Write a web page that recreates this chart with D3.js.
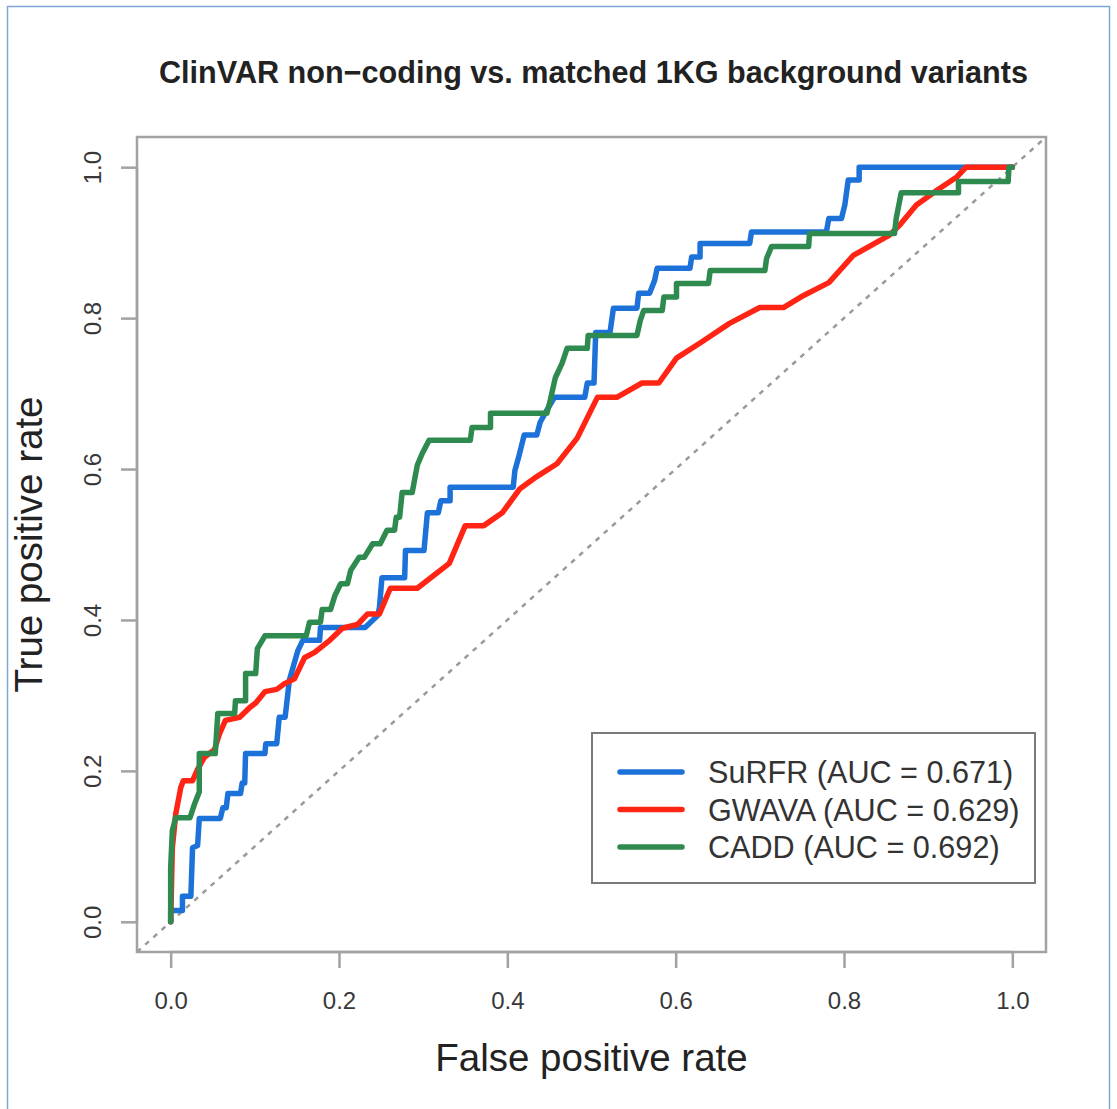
<!DOCTYPE html>
<html>
<head>
<meta charset="utf-8">
<script src="https://cdn.jsdelivr.net/npm/d3@7/dist/d3.min.js"></script>
<style>
  html, body { margin: 0; padding: 0; background: #ffffff; }
  svg { display: block; font-family: "Liberation Sans", Arial, Helvetica, sans-serif; }
</style>
</head>
<body>
<svg id="chart" width="1117" height="1109"></svg>
<script>
// ROC curves: [false positive rate, true positive rate] vertices
const surfrROC = [
  [0,0],[0,0.015],[0.014,0.015],[0.014,0.034],[0.024,0.034],[0.026,0.098],[0.032,0.101],
  [0.034,0.137],[0.059,0.137],[0.062,0.151],[0.066,0.151],[0.068,0.170],[0.083,0.170],
  [0.085,0.184],[0.088,0.184],[0.089,0.223],[0.112,0.223],[0.113,0.236],[0.126,0.236],
  [0.129,0.271],[0.136,0.271],[0.141,0.320],[0.151,0.359],[0.157,0.373],[0.177,0.373],
  [0.178,0.390],[0.231,0.390],[0.246,0.406],[0.248,0.416],[0.251,0.456],[0.278,0.456],
  [0.279,0.492],[0.301,0.492],[0.305,0.542],[0.318,0.542],[0.321,0.558],[0.332,0.558],
  [0.332,0.576],[0.407,0.576],[0.409,0.598],[0.414,0.618],[0.420,0.645],[0.435,0.645],
  [0.439,0.662],[0.447,0.678],[0.456,0.695],[0.492,0.695],[0.495,0.714],[0.503,0.714],
  [0.505,0.781],[0.522,0.781],[0.526,0.813],[0.554,0.813],[0.556,0.833],[0.569,0.833],
  [0.575,0.850],[0.578,0.866],[0.617,0.866],[0.619,0.881],[0.629,0.881],[0.629,0.899],
  [0.688,0.899],[0.690,0.914],[0.779,0.914],[0.782,0.932],[0.797,0.932],[0.801,0.950],
  [0.805,0.983],[0.818,0.983],[0.818,1.0],[1,1]
];

const gwavaROC = [
  [0,0],[0.002,0.098],[0.006,0.143],[0.012,0.178],[0.015,0.187],[0.026,0.187],[0.032,0.202],
  [0.040,0.218],[0.052,0.228],[0.058,0.249],[0.065,0.267],[0.082,0.271],[0.094,0.284],
  [0.101,0.290],[0.112,0.305],[0.126,0.308],[0.136,0.316],[0.147,0.322],[0.159,0.350],
  [0.171,0.357],[0.189,0.373],[0.204,0.389],[0.222,0.394],[0.234,0.408],[0.248,0.408],
  [0.261,0.442],[0.293,0.442],[0.331,0.475],[0.350,0.525],[0.372,0.525],[0.394,0.542],
  [0.415,0.574],[0.435,0.590],[0.459,0.607],[0.483,0.641],[0.507,0.695],[0.530,0.695],
  [0.560,0.714],[0.580,0.714],[0.601,0.747],[0.629,0.767],[0.664,0.793],[0.700,0.814],
  [0.728,0.814],[0.752,0.830],[0.782,0.847],[0.811,0.883],[0.854,0.910],[0.866,0.923],
  [0.886,0.950],[0.910,0.969],[0.934,0.987],[0.945,1.0],[1,1]
];

const caddROC = [
  [0,0],[0,0.072],[0.002,0.121],[0.006,0.138],[0.023,0.138],[0.028,0.155],[0.034,0.172],
  [0.034,0.223],[0.053,0.223],[0.056,0.276],[0.076,0.276],[0.077,0.293],[0.089,0.293],
  [0.089,0.329],[0.101,0.329],[0.103,0.362],[0.112,0.379],[0.161,0.379],[0.165,0.397],
  [0.178,0.397],[0.180,0.414],[0.190,0.414],[0.195,0.432],[0.202,0.448],[0.210,0.448],
  [0.214,0.466],[0.224,0.483],[0.230,0.483],[0.240,0.501],[0.249,0.501],[0.257,0.519],
  [0.266,0.519],[0.268,0.536],[0.272,0.536],[0.275,0.569],[0.287,0.569],[0.293,0.605],
  [0.299,0.621],[0.307,0.638],[0.356,0.638],[0.358,0.655],[0.380,0.655],[0.380,0.674],
  [0.447,0.674],[0.451,0.691],[0.457,0.721],[0.465,0.740],[0.471,0.760],[0.495,0.760],
  [0.496,0.777],[0.554,0.777],[0.558,0.797],[0.562,0.810],[0.584,0.810],[0.586,0.828],
  [0.601,0.828],[0.601,0.846],[0.639,0.846],[0.641,0.863],[0.706,0.863],[0.708,0.879],
  [0.714,0.895],[0.758,0.895],[0.759,0.912],[0.860,0.912],[0.862,0.932],[0.868,0.966],
  [0.936,0.966],[0.936,0.981],[0.995,0.981],[0.996,1.0],[1,1]
];

const seriesNames = ["SuRFR", "GWAVA", "CADD"];
const aucValues = [0.671, 0.629, 0.692];
const seriesColors = ["#1c72d8", "#ff2414", "#2e8a4f"];
const tickValues = [0, 0.2, 0.4, 0.6, 0.8, 1.0];
const tickLabels = ["0.0", "0.2", "0.4", "0.6", "0.8", "1.0"];

const titleText = "ClinVAR non\u2212coding vs. matched 1KG background variants";
const xTitle = "False positive rate";
const yTitle = "True positive rate";

const svg = d3.select("#chart");

// page frame
svg.append("rect")
  .attr("x", 7.5).attr("y", 6.5)
  .attr("width", 1102).attr("height", 1120)
  .attr("fill", "none").attr("stroke", "#7ea8d8").attr("stroke-width", 1.5);

// plot region (R-style 4% padding on both axes)
const box = { left: 137, right: 1046, top: 137, bottom: 952 };
const x = d3.scaleLinear().domain([-0.04, 1.04]).range([box.left, box.right]);
const y = d3.scaleLinear().domain([-0.04, 1.04]).range([box.bottom, box.top]);

svg.append("defs").append("clipPath").attr("id", "plotclip")
  .append("rect")
  .attr("x", box.left).attr("y", box.top)
  .attr("width", box.right - box.left).attr("height", box.bottom - box.top);

// chance diagonal
svg.append("line")
  .attr("clip-path", "url(#plotclip)")
  .attr("x1", x(-0.04)).attr("y1", y(-0.04))
  .attr("x2", x(1.04)).attr("y2", y(1.04))
  .attr("stroke", "#9a9a9a").attr("stroke-width", 2.5)
  .attr("stroke-dasharray", "5,6");

// ROC curves
const line = d3.line().x(d => x(d[0])).y(d => y(d[1]));
const curves = [surfrROC, gwavaROC, caddROC];
curves.forEach((pts, i) => {
  svg.append("path")
    .datum(pts)
    .attr("d", line)
    .attr("fill", "none")
    .attr("stroke", seriesColors[i])
    .attr("stroke-width", 5.5)
    .attr("stroke-linejoin", "round")
    .attr("stroke-linecap", "round");
});

// frame around the plot
svg.append("rect")
  .attr("x", box.left).attr("y", box.top)
  .attr("width", box.right - box.left).attr("height", box.bottom - box.top)
  .attr("fill", "none").attr("stroke", "#a2a2a2").attr("stroke-width", 2.5);

// x axis
const xAxis = d3.axisBottom(x).tickValues(tickValues)
  .tickFormat((d, i) => tickLabels[i]).tickSize(16).tickPadding(24).tickSizeOuter(0);
const gx = svg.append("g").attr("transform", `translate(0,${box.bottom})`).call(xAxis);
gx.select(".domain")
  .attr("d", `M${x(0)},0H${x(1)}`)
  .attr("stroke", "#a2a2a2").attr("stroke-width", 2.5);
gx.selectAll(".tick line").attr("stroke", "#a2a2a2").attr("stroke-width", 2.5);
gx.selectAll(".tick text")
  .attr("font-size", 24).attr("fill", "#383838")
  .attr("font-family", "Liberation Sans, Arial, sans-serif");

// y axis, labels parallel to the axis
const yAxis = d3.axisLeft(y).tickValues(tickValues)
  .tickFormat((d, i) => tickLabels[i]).tickSize(16).tickSizeOuter(0);
const gy = svg.append("g").attr("transform", `translate(${box.left},0)`).call(yAxis);
gy.select(".domain")
  .attr("d", `M0,${y(0)}V${y(1)}`)
  .attr("stroke", "#a2a2a2").attr("stroke-width", 2.5);
gy.selectAll(".tick line").attr("stroke", "#a2a2a2").attr("stroke-width", 2.5);
gy.selectAll(".tick text")
  .attr("x", null).attr("dy", null).attr("y", null)
  .attr("transform", "translate(-36,0) rotate(-90)")
  .attr("text-anchor", "middle")
  .attr("font-size", 24).attr("fill", "#383838")
  .attr("font-family", "Liberation Sans, Arial, sans-serif");

// title and axis titles
const cx = (box.left + box.right) / 2;
svg.append("text")
  .attr("x", cx + 2).attr("y", 83)
  .attr("text-anchor", "middle")
  .attr("font-size", 30.6).attr("font-weight", "bold").attr("fill", "#222")
  .text(titleText);

svg.append("text")
  .attr("x", cx).attr("y", 1071)
  .attr("text-anchor", "middle")
  .attr("font-size", 38.5).attr("fill", "#222")
  .text(xTitle);

svg.append("text")
  .attr("transform", `translate(42,${(box.top + box.bottom) / 2}) rotate(-90)`)
  .attr("text-anchor", "middle")
  .attr("font-size", 38.5).attr("fill", "#222")
  .text(yTitle);

// legend
const lg = svg.append("g");
lg.append("rect")
  .attr("x", 592).attr("y", 733).attr("width", 443).attr("height", 150)
  .attr("fill", "#fff").attr("stroke", "#7a7a7a").attr("stroke-width", 2);
const rowY = [772, 809.5, 847];
seriesNames.forEach((name, i) => {
  lg.append("line")
    .attr("x1", 620).attr("x2", 682)
    .attr("y1", rowY[i]).attr("y2", rowY[i])
    .attr("stroke", seriesColors[i]).attr("stroke-width", 5.5)
    .attr("stroke-linecap", "round");
  lg.append("text")
    .attr("x", 708).attr("y", rowY[i]).attr("dy", "0.36em")
    .attr("font-size", 30.6).attr("fill", "#333")
    .text(`${name} (AUC = ${aucValues[i].toFixed(3)})`);
});
</script>
</body>
</html>
